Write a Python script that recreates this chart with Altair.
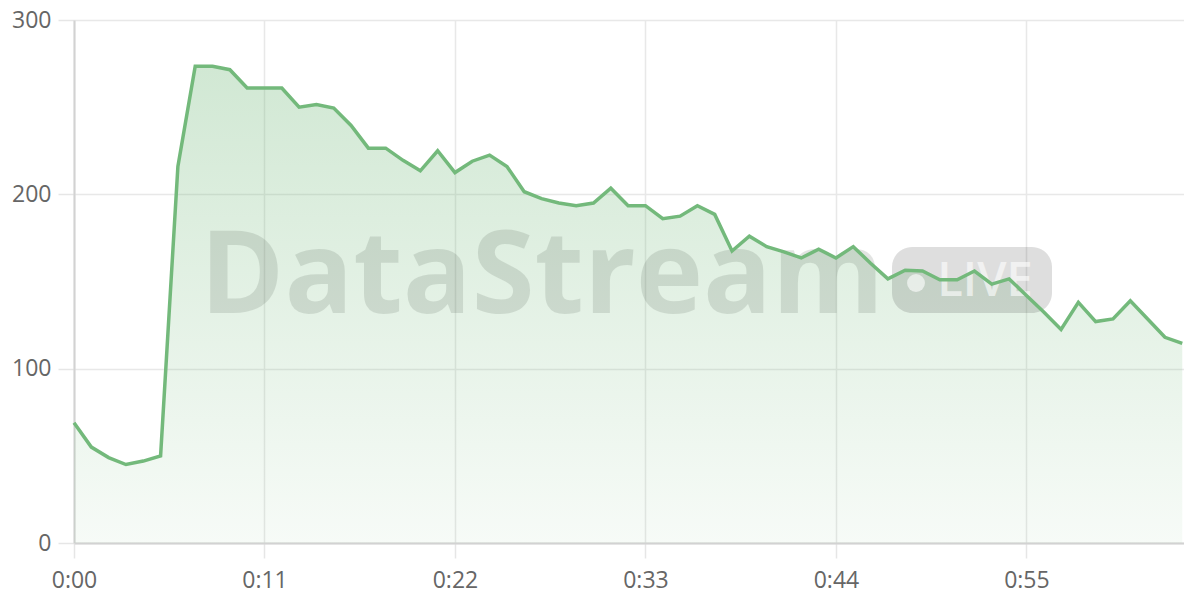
import altair as alt
import pandas as pd

# ---- data ----
seconds = list(range(65))
values = [69, 55, 49, 45, 47, 50, 216, 273.5, 273.5, 271.5,
          261, 261, 261, 250, 251.5, 249.5, 239.5, 226.5, 226.5, 219.5,
          213.5, 225, 212.5, 219, 222.5, 216, 201.5, 197.5, 195, 193.5,
          195, 203.5, 193.5, 193.5, 186, 187.5, 193.5, 188.5, 167.5, 176,
          170, 167, 163.5, 168.5, 163.5, 170, 160.5, 151.5, 156.5, 156,
          151, 151, 156, 148.5, 151.5, 142, 132.5, 122.5, 138, 127,
          128.5, 139, 128.5, 118, 114.5]
x_ticks = [0, 11, 22, 33, 44, 55]
y_ticks = [0, 100, 200, 300]
watermark_text = ["DataStream"]
badge_text = ["LIVE"]

df = pd.DataFrame({"t": seconds, "v": values})

FONT = "Open Sans"
GREEN = "#73b97b"

x_enc = alt.X(
    "t:Q",
    scale=alt.Scale(domain=[0, 64.1], nice=False, zero=False),
    axis=alt.Axis(
        values=x_ticks,
        labelExpr="'0:' + (datum.value < 10 ? '0' : '') + datum.value",
        title=None,
        labelPadding=11,
        tickSize=15,
        labelFlush=False,
        labelOverlap=False,
    ),
)
y_enc = alt.Y(
    "v:Q",
    scale=alt.Scale(domain=[0, 300], nice=False),
    axis=alt.Axis(values=y_ticks, title=None, labelPadding=7, tickSize=16,
                  labelFlush=False, labelOverlap=False),
)

base = alt.Chart(df)

area = base.mark_area(
    color=alt.Gradient(
        gradient="linear",
        stops=[
            alt.GradientStop(color="rgba(115,185,123,0.33)", offset=0),
            alt.GradientStop(color="rgba(115,185,123,0.06)", offset=1),
        ],
        x1=0, x2=0, y1=0, y2=1,
    )
).encode(x=x_enc, y=y_enc)

line = base.mark_line(color=GREEN, strokeWidth=3.5).encode(x="t:Q", y="v:Q")

wm = alt.Chart(pd.DataFrame({"label": watermark_text})).mark_text(
    font=FONT, fontSize=114, fontWeight="bold", color="#1e2a1e", opacity=0.12,
    align="center", baseline="alphabetic",
).encode(x=alt.value(468), y=alt.value(293), text="label:N")

badge = alt.Chart(pd.DataFrame({"label": badge_text})).mark_rect(
    cornerRadius=20, color="#000000", opacity=0.13,
).encode(x=alt.value(818), x2=alt.value(978), y=alt.value(227), y2=alt.value(293))

dot = alt.Chart(pd.DataFrame({"label": badge_text})).mark_point(
    shape="circle", filled=True, size=320, color="#ffffff", opacity=0.6,
).encode(x=alt.value(842), y=alt.value(263))

live = alt.Chart(pd.DataFrame({"label": badge_text})).mark_text(
    font=FONT, fontSize=47, fontWeight=600, color="#ffffff", opacity=0.6,
    align="center", baseline="alphabetic",
).encode(x=alt.value(911), y=alt.value(276), text="label:N")

chart = (
    alt.layer(area, wm, badge, dot, live, line)
    .properties(
        width=1110,
        height=523,
        autosize="none",
        padding={"left": 66, "top": 12, "right": 0, "bottom": 50},
    )
    .configure_view(stroke=None)
    .configure_axis(
        gridColor="#e8e8e8",
        gridWidth=1.5,
        domainColor="#d2d2d2",
        domainWidth=2,
        tickColor="#e6e6e6",
        tickWidth=1.5,
        labelFont=FONT,
        labelFontSize=23,
        labelColor="#666666",
    )
)

chart.save("out.html", embed_options={"renderer": "svg", "actions": False})
